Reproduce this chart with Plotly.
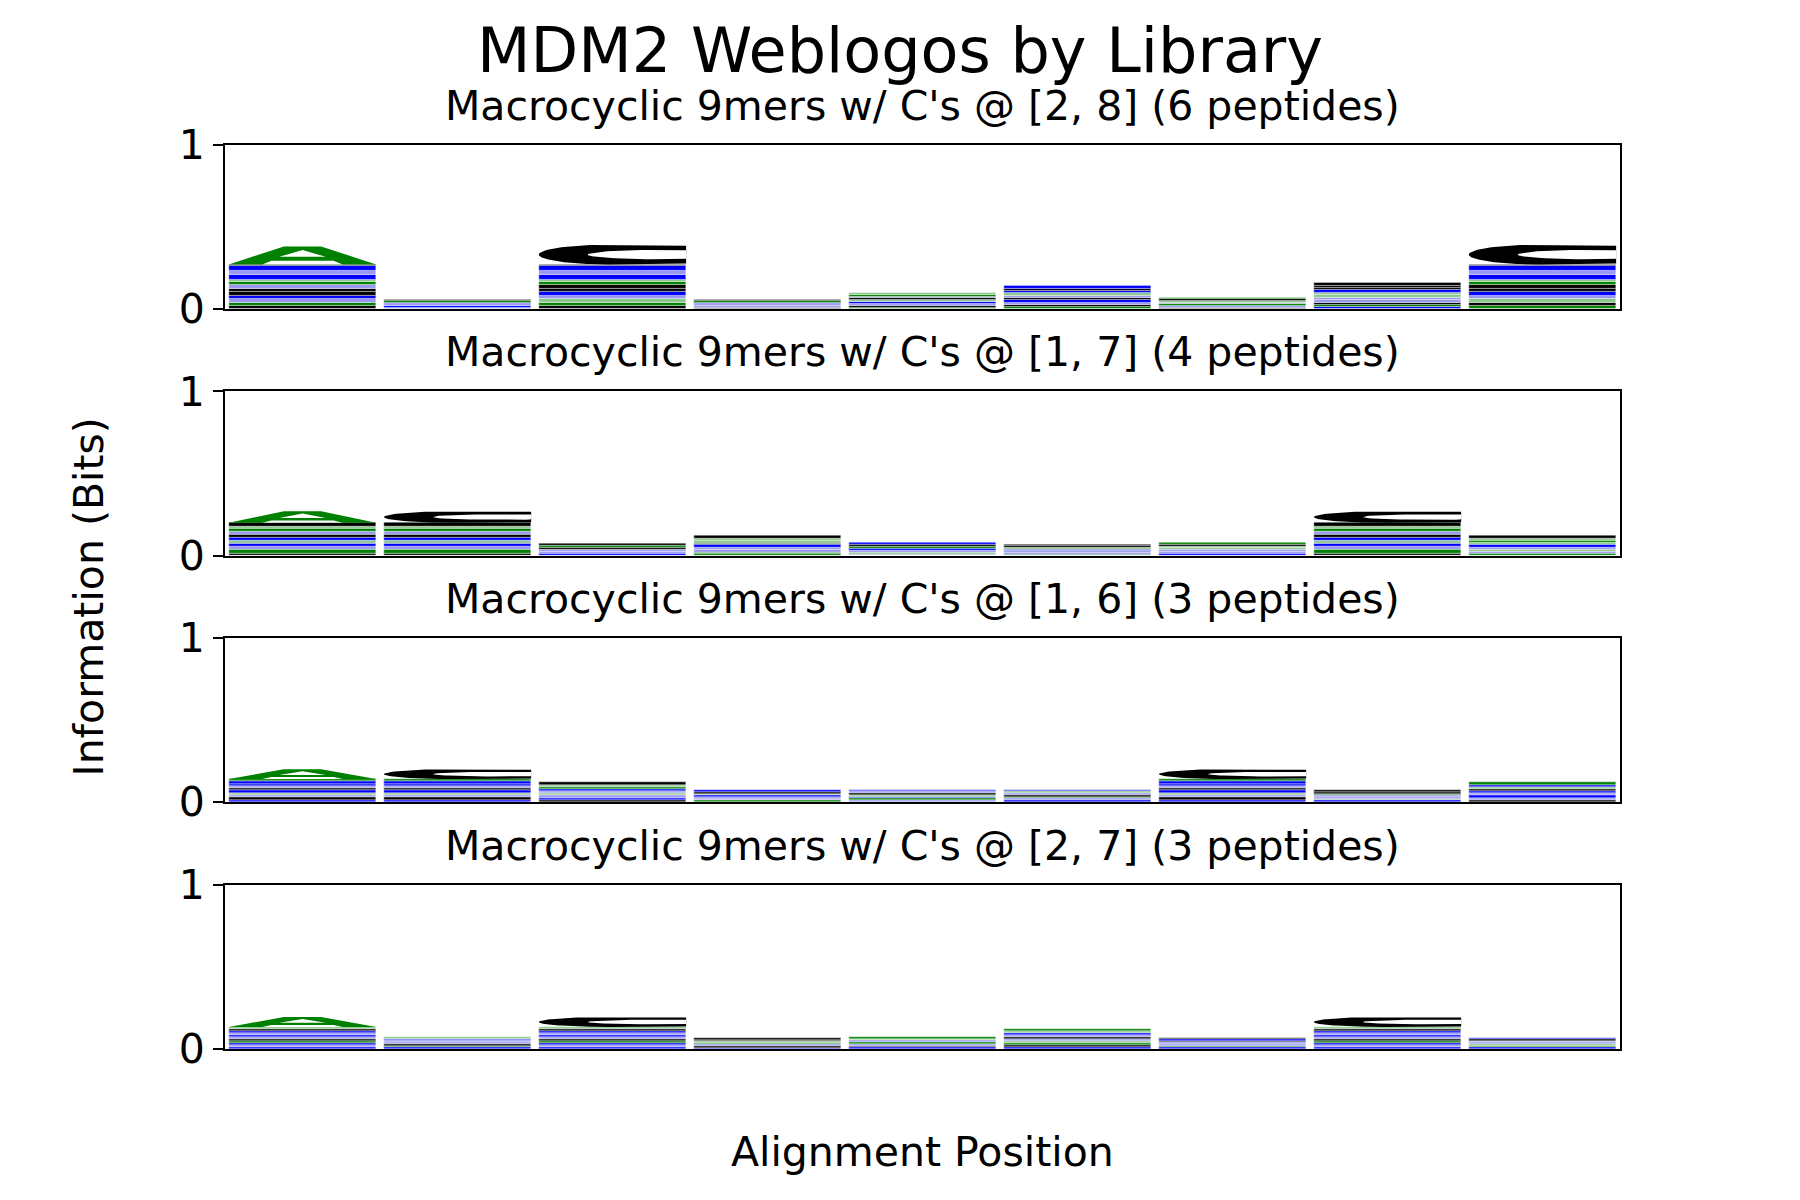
import numpy as np
import plotly.graph_objects as go

# ---------------- data ----------------
main_title = "MDM2 Weblogos by Library"
panel_titles = [
    "Macrocyclic 9mers w/ C's @ [2, 8] (6 peptides)",
    "Macrocyclic 9mers w/ C's @ [1, 7] (4 peptides)",
    "Macrocyclic 9mers w/ C's @ [1, 6] (3 peptides)",
    "Macrocyclic 9mers w/ C's @ [2, 7] (3 peptides)",
]
positions = [0, 1, 2, 3, 4, 5, 6, 7, 8]
y_ticks = [0, 1]
x_label = "Alignment Position"
y_label = "Information (Bits)"

# letters stacked bottom -> top, with their heights (bits)
p1_letters = ["LSEKWVDGNRDKMA", "EKDRSL", "VSNEKLWGQRDKMC", "MEDKGL", "GWEKNLDGQ",
              "GLEKVDQRMH", "MDSEQLG", "KGLEDNQKLWM", "GVNDKLMSQRDKLC"]
p1_heights = [
    [0.02, 0.02, 0.02, 0.02, 0.025, 0.02, 0.02, 0.02, 0.015, 0.03, 0.02, 0.03, 0.01, 0.11],
    [0.01, 0.01, 0.01, 0.01, 0.01, 0.005],
    [0.02, 0.02, 0.02, 0.02, 0.025, 0.02, 0.02, 0.02, 0.015, 0.03, 0.02, 0.03, 0.01, 0.12],
    [0.01, 0.01, 0.01, 0.01, 0.01, 0.005],
    [0.01, 0.012, 0.01, 0.012, 0.01, 0.012, 0.01, 0.012, 0.012],
    [0.012, 0.012, 0.015, 0.015, 0.012, 0.015, 0.015, 0.015, 0.014, 0.015],
    [0.01, 0.01, 0.01, 0.01, 0.01, 0.01, 0.01],
    [0.012, 0.015, 0.012, 0.015, 0.015, 0.015, 0.015, 0.015, 0.012, 0.015, 0.019],
    [0.02, 0.02, 0.02, 0.02, 0.025, 0.02, 0.02, 0.02, 0.015, 0.03, 0.02, 0.03, 0.01, 0.12],
]

p2_letters = ["LSDRQKLEGNVA", "LSDRQKLEGNVC", "RDEMGL", "GSEDKWQNV", "DQEKGLK",
              "GDEKQLW", "KDEQNLG", "LSDRQKLEGNVC", "GDQEKNSQM"]
p2_heights = [
    [0.015, 0.025, 0.015, 0.02, 0.015, 0.02, 0.02, 0.015, 0.02, 0.015, 0.02, 0.07],
    [0.015, 0.025, 0.015, 0.02, 0.015, 0.02, 0.02, 0.015, 0.02, 0.015, 0.02, 0.07],
    [0.012, 0.012, 0.013, 0.012, 0.013, 0.013],
    [0.012, 0.01, 0.015, 0.013, 0.015, 0.012, 0.015, 0.013, 0.015],
    [0.01, 0.012, 0.012, 0.012, 0.012, 0.011, 0.011],
    [0.01, 0.01, 0.01, 0.01, 0.01, 0.01, 0.01],
    [0.012, 0.012, 0.012, 0.011, 0.011, 0.011, 0.011],
    [0.015, 0.025, 0.015, 0.02, 0.015, 0.02, 0.02, 0.015, 0.02, 0.015, 0.02, 0.07],
    [0.012, 0.012, 0.014, 0.014, 0.014, 0.014, 0.014, 0.012, 0.014],
]

p3_letters = ["KLDQKLEKRGA", "KLDQKLEKRGC", "MKDQERGQL", "GDEKNLK", "DGKQLEK",
              "KDGLEQK", "KLDQKLEKRGC", "KQDEGLW", "MDKERLQKG"]
p3_heights = [
    [0.014, 0.014, 0.014, 0.014, 0.014, 0.014, 0.014, 0.014, 0.014, 0.014, 0.06],
    [0.014, 0.014, 0.014, 0.014, 0.014, 0.014, 0.014, 0.014, 0.014, 0.014, 0.06],
    [0.012, 0.014, 0.014, 0.012, 0.014, 0.014, 0.012, 0.014, 0.014],
    [0.01, 0.01, 0.01, 0.01, 0.01, 0.01, 0.01],
    [0.011, 0.01, 0.011, 0.011, 0.01, 0.011, 0.011],
    [0.011, 0.01, 0.011, 0.011, 0.01, 0.011, 0.011],
    [0.014, 0.014, 0.014, 0.014, 0.014, 0.014, 0.014, 0.014, 0.014, 0.014, 0.06],
    [0.01, 0.01, 0.01, 0.01, 0.01, 0.01, 0.01],
    [0.012, 0.014, 0.014, 0.012, 0.014, 0.014, 0.012, 0.014, 0.014],
]

p4_letters = ["KEKGLDREKWQA", "KGLEDKQ", "KEKGLDREKWQC", "KLDGQWM", "KLDGEQG",
              "KMGQDLEKNG", "KGDELRW", "KEKGLDREKWQC", "KGQDELK"]
p4_heights = [
    [0.012, 0.012, 0.013, 0.012, 0.012, 0.013, 0.012, 0.012, 0.013, 0.012, 0.012, 0.06],
    [0.011, 0.01, 0.011, 0.011, 0.01, 0.011, 0.011],
    [0.012, 0.012, 0.013, 0.012, 0.012, 0.013, 0.012, 0.012, 0.013, 0.012, 0.012, 0.06],
    [0.009, 0.009, 0.01, 0.009, 0.009, 0.01, 0.009],
    [0.011, 0.01, 0.011, 0.011, 0.01, 0.011, 0.011],
    [0.012, 0.012, 0.012, 0.012, 0.012, 0.012, 0.012, 0.012, 0.012, 0.012],
    [0.01, 0.01, 0.01, 0.01, 0.01, 0.01, 0.01],
    [0.012, 0.012, 0.013, 0.012, 0.012, 0.013, 0.012, 0.012, 0.013, 0.012, 0.012, 0.06],
    [0.01, 0.01, 0.01, 0.01, 0.01, 0.01, 0.01],
]

panels_letters = [p1_letters, p2_letters, p3_letters, p4_letters]
panels_heights = [p1_heights, p2_heights, p3_heights, p4_heights]

letter_colors = {
    "A": "#008000", "G": "#008000", "S": "#008000", "T": "#008000", "Y": "#008000",
    "N": "#8cc88c", "Q": "#8cc88c",
    "K": "#0000ff", "R": "#0000ff", "H": "#0000ff",
    "D": "#9898f0", "E": "#9898f0",
}
default_color = "#000000"

# ---------------- layout geometry ----------------
W, H = 1800, 1200
FONT = "DejaVu Sans"
x_dom = [0.125, 0.9]
y_doms = [[0.7427, 0.8795], [0.5370, 0.6738], [0.3317, 0.4683], [0.1258, 0.2625]]
title_ys = [0.912, 0.7067, 0.5008, 0.295]
letter_width = 0.95
half = letter_width / 2

fig = go.Figure()

for p in range(4):
    xa = "x" if p == 0 else f"x{p+1}"
    ya = "y" if p == 0 else f"y{p+1}"
    letters = panels_letters[p]
    heights = panels_heights[p]
    nlev = max(len(s) for s in letters)
    bases = [np.concatenate([[0.0], np.cumsum(h)[:-1]]) for h in heights]
    for k in range(nlev):
        xs, ys, bs, cs = [], [], [], []
        for i, pos in enumerate(positions):
            if k < len(letters[i]):
                L = letters[i][k]
                h = heights[i][k]
                top = (k == len(letters[i]) - 1) and L in "AC" and h >= 0.04
                if top:
                    continue
                xs.append(pos)
                ys.append(h)
                bs.append(bases[i][k])
                cs.append(letter_colors.get(L, default_color))
        if xs:
            fig.add_trace(go.Bar(x=xs, y=ys, base=bs, width=letter_width,
                                 marker=dict(color=cs, line=dict(width=0.4, color="white")),
                                 showlegend=False, hoverinfo="skip",
                                 xaxis=xa, yaxis=ya))
    # big top letters drawn as glyph shapes
    for i, pos in enumerate(positions):
        L = letters[i][-1]
        h = heights[i][-1]
        if L not in "AC" or h < 0.04:
            continue
        y0 = float(np.sum(heights[i][:-1]))
        y1 = y0 + h
        c = pos
        if L == "A":
            ox = [c - half, c - 0.12, c + 0.12, c + half, c - half]
            oy = [y0, y1, y1, y0, y0]
            fig.add_trace(go.Scatter(x=ox, y=oy, fill="toself", mode="lines",
                                     line=dict(width=0), fillcolor="#008000",
                                     showlegend=False, hoverinfo="skip", xaxis=xa, yaxis=ya))
            ix = [c - 0.15, c, c + 0.15, c - 0.15]
            iy = [y0 + 0.42 * h, y0 + 0.8 * h, y0 + 0.42 * h, y0 + 0.42 * h]
            fig.add_trace(go.Scatter(x=ix, y=iy, fill="toself", mode="lines",
                                     line=dict(width=0), fillcolor="white",
                                     showlegend=False, hoverinfo="skip", xaxis=xa, yaxis=ya))
            gx = [c - 0.26, c - 0.2, c + 0.2, c + 0.26, c - 0.26]
            gy = [y0, y0 + 0.2 * h, y0 + 0.2 * h, y0, y0]
            fig.add_trace(go.Scatter(x=gx, y=gy, fill="toself", mode="lines",
                                     line=dict(width=0), fillcolor="white",
                                     showlegend=False, hoverinfo="skip", xaxis=xa, yaxis=ya))
        else:
            ym = (y0 + y1) / 2
            t = np.linspace(np.pi / 2, 3 * np.pi / 2, 60)
            a = 0.45
            ex = (c - half + a) + a * np.cos(t)
            ey = ym + (h / 2) * np.sin(t)
            ox = np.concatenate([[c + half], ex, [c + half, c + half]])
            oy = np.concatenate([[y1 - 0.05 * h], ey, [y0 + 0.05 * h, y1 - 0.05 * h]])
            fig.add_trace(go.Scatter(x=ox, y=oy, fill="toself", mode="lines",
                                     line=dict(width=0), fillcolor="black",
                                     showlegend=False, hoverinfo="skip", xaxis=xa, yaxis=ya))
            t2 = np.linspace(0, 2 * np.pi, 80)
            ix = np.minimum(c + 0.3 + 0.46 * np.cos(t2), c + half)
            iy = ym + 0.24 * h * np.sin(t2)
            fig.add_trace(go.Scatter(x=ix, y=iy, fill="toself", mode="lines",
                                     line=dict(width=0), fillcolor="white",
                                     showlegend=False, hoverinfo="skip", xaxis=xa, yaxis=ya))

axis_common = dict(showline=True, mirror=True, linecolor="black", linewidth=2,
                   showgrid=False, zeroline=False, automargin=False)
for p in range(4):
    xk = "xaxis" if p == 0 else f"xaxis{p+1}"
    yk = "yaxis" if p == 0 else f"yaxis{p+1}"
    ya = "y" if p == 0 else f"y{p+1}"
    xa = "x" if p == 0 else f"x{p+1}"
    fig.layout[xk] = dict(domain=x_dom, range=[-0.5, 8.5], anchor=ya,
                          showticklabels=False, ticks="", **axis_common)
    fig.layout[yk] = dict(domain=y_doms[p], range=[0, 1], anchor=xa,
                          tickvals=y_ticks, ticktext=[str(v) for v in y_ticks],
                          ticks="outside", ticklen=10, tickwidth=2, tickcolor="black",
                          tickfont=dict(size=41, color="black", family=FONT),
                          **axis_common)

annotations = [dict(text=main_title, x=0.5, y=0.958, xref="paper", yref="paper",
                    showarrow=False, font=dict(size=62, color="black", family=FONT),
                    xanchor="center", yanchor="middle")]
for p in range(4):
    annotations.append(dict(text=panel_titles[p], x=(x_dom[0] + x_dom[1]) / 2, y=title_ys[p],
                            xref="paper", yref="paper", showarrow=False,
                            font=dict(size=41, color="black", family=FONT),
                            xanchor="center", yanchor="middle"))
annotations.append(dict(text=x_label, x=(x_dom[0] + x_dom[1]) / 2, y=0.04, xref="paper",
                        yref="paper", showarrow=False,
                        font=dict(size=41, color="black", family=FONT),
                        xanchor="center", yanchor="middle"))
annotations.append(dict(text=y_label, x=0.0497, y=0.5025, xref="paper", yref="paper",
                        showarrow=False, textangle=-90,
                        font=dict(size=41, color="black", family=FONT),
                        xanchor="center", yanchor="middle"))

fig.update_layout(width=W, height=H, margin=dict(l=0, r=0, t=0, b=0, pad=0, autoexpand=False),
                  paper_bgcolor="white", plot_bgcolor="white",
                  barmode="overlay", bargap=0, annotations=annotations,
                  font=dict(family=FONT, color="black"))

fig.write_html("out.html")
